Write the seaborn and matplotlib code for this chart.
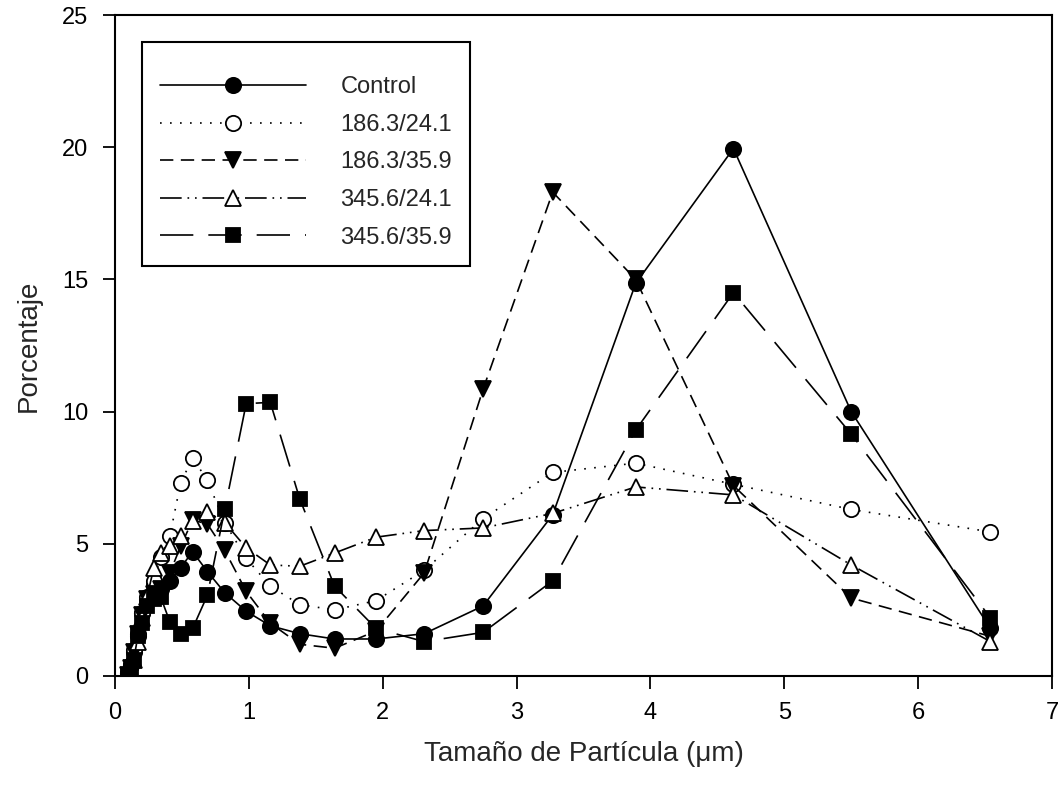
import matplotlib
matplotlib.use("Agg")
import matplotlib.pyplot as plt
import seaborn as sns

# Particle size classes (µm)
sizes = [0.10, 0.12, 0.14, 0.17, 0.20, 0.24, 0.29, 0.34, 0.41, 0.49, 0.58, 0.69,
         0.82, 0.98, 1.16, 1.38, 1.64, 1.95, 2.31, 2.75, 3.27, 3.89, 4.62, 5.50, 6.54]

# Percentage of particles per size class for each treatment
control = [0.1, 0.4, 0.9, 1.5, 2.4, 2.9, 3.45, 3.3, 3.6, 4.1, 4.7, 3.95,
           3.15, 2.45, 1.9, 1.6, 1.4, 1.4, 1.6, 2.65, 6.1, 14.85, 19.95, 10.0, 1.8]
t_186_24 = [0.1, 0.4, 1.0, 1.6, 2.4, 3.0, 3.6, 4.5, 5.3, 7.3, 8.25, 7.4,
            5.8, 4.45, 3.4, 2.7, 2.5, 2.85, 4.0, 5.95, 7.7, 8.05, 7.25, 6.3, 5.45]
t_186_36 = [0.05, 0.3, 0.9, 1.6, 2.3, 2.9, 3.1, 3.3, 3.9, 4.9, 5.9, 5.75,
            4.75, 3.2, 2.0, 1.2, 1.05, 1.7, 3.9, 10.85, 18.3, 15.0, 7.2, 2.95, 1.5]
t_346_24 = [0.05, 0.2, 0.6, 1.3, 2.2, 3.0, 4.1, 4.65, 4.9, 5.3, 5.85, 6.2,
            5.8, 4.85, 4.2, 4.15, 4.65, 5.25, 5.5, 5.6, 6.15, 7.15, 6.85, 4.2, 1.3]
t_346_36 = [0.0, 0.2, 0.6, 1.5, 2.0, 2.65, 2.9, 3.0, 2.05, 1.6, 1.8, 3.05,
            6.3, 10.3, 10.35, 6.7, 3.4, 1.8, 1.3, 1.65, 3.6, 9.3, 14.5, 9.15, 2.2]

labels = ["Control", "186.3/24.1", "186.3/35.9", "345.6/24.1", "345.6/35.9"]

sns.set_style("ticks")
plt.rcParams["font.family"] = ["Liberation Sans", "DejaVu Sans"]

fig = plt.figure(figsize=(10.61, 7.91), dpi=100)
ax = fig.add_axes([115 / 1061, 1 - 676 / 791, (1052 - 115) / 1061, (676 - 15) / 791])

styles = [
    dict(values=control, marker="o", mfc="black", ls="-", ms=11),
    dict(values=t_186_24, marker="o", mfc="white", ls=(0, (1, 5)), ms=11),
    dict(values=t_186_36, marker="v", mfc="black", ls=(0, (8, 4.5)), ms=12),
    dict(values=t_346_24, marker="^", mfc="white", ls=(0, (13, 3.5, 1, 3.5, 1, 3.5)), ms=12),
    dict(values=t_346_36, marker="s", mfc="black", ls=(0, (20, 9)), ms=10),
]

for lab, st in zip(labels, styles):
    sns.lineplot(x=sizes, y=st["values"], ax=ax, color="black", linewidth=1.2,
                 linestyle=st["ls"], marker=st["marker"], markersize=st["ms"],
                 markerfacecolor=st["mfc"], markeredgecolor="black",
                 markeredgewidth=1.3, label=lab, sort=False, estimator=None)

ax.set_xlim(0, 7)
ax.set_ylim(0, 25)
ax.set_xticks(range(0, 8))
ax.set_yticks(range(0, 26, 5))
ax.tick_params(direction="out", length=9, width=1.3, pad=10, labelsize=17,
               colors="black")
for sp in ax.spines.values():
    sp.set_visible(True)
    sp.set_linewidth(1.5)
    sp.set_color("black")

ax.set_xlabel("Tamaño de Partícula (μm)", fontsize=20, labelpad=12)
ax.set_ylabel("Porcentaje", fontsize=20, labelpad=15)

# a tiny blank title gives the box a little extra room above the first entry
leg = ax.legend(loc="upper left", bbox_to_anchor=(27 / 937, 1 - 27 / 661),
                borderaxespad=0, frameon=True, fancybox=False, framealpha=1,
                edgecolor="black", fontsize=17, numpoints=1, handlelength=6.2,
                handletextpad=1.45, labelspacing=0.66, borderpad=0.75,
                title=" ", title_fontsize=1)
leg.get_frame().set_linewidth(1.5)

fig.savefig("out.png", dpi=100)
